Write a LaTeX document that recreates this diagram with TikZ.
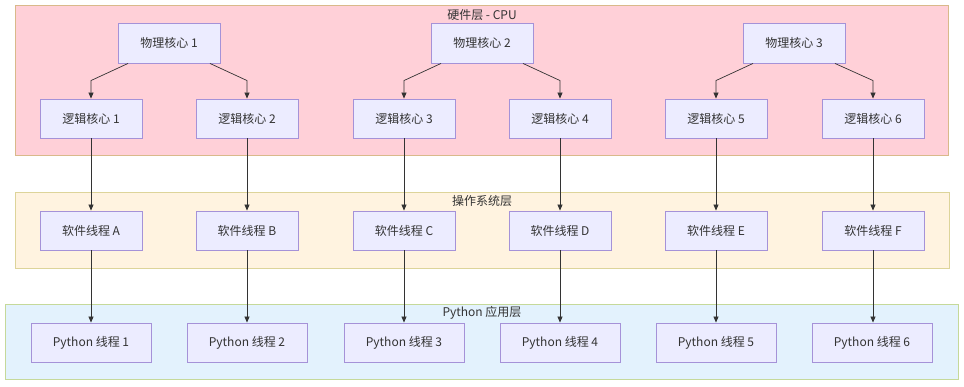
\documentclass[tikz,border=0pt]{standalone}
\usepackage{fontspec}
\setmainfont{Noto Sans CJK SC}
\usetikzlibrary{arrows.meta}
\definecolor{nodefill}{HTML}{ECECFF}
\definecolor{nodeline}{HTML}{A592D8}
\definecolor{txt}{HTML}{333333}
\definecolor{hwfill}{HTML}{FFD0D8}
\definecolor{hwline}{HTML}{D9B98A}
\definecolor{osfill}{HTML}{FFF3E0}
\definecolor{osline}{HTML}{DDD49A}
\definecolor{pyfill}{HTML}{E3F2FD}
\definecolor{pyline}{HTML}{C5D99A}
\tikzset{
  box/.style={draw=nodeline, fill=nodefill, line width=0.9pt, minimum width=102pt, minimum height=39pt, inner sep=0pt, text=txt, font=\fontsize{12}{14}\selectfont},
  pybox/.style={box, minimum width=120pt},
  cluster/.style={line width=0.8pt},
  ttl/.style={text=txt, font=\fontsize{12}{14}\selectfont, inner sep=0pt},
  arr/.style={draw=txt, line width=0.7pt, -{Triangle[length=6pt,width=5pt]}}
}
\begin{document}
\begin{tikzpicture}[x=1pt,y=-1pt]
\useasboundingbox (0,0) rectangle (964,386);
% clusters
\draw[cluster, draw=hwline, fill=hwfill] (15,5) rectangle (948,155);
\draw[cluster, draw=osline, fill=osfill] (15,192) rectangle (949,268);
\draw[cluster, draw=pyline, fill=pyfill] (5,304) rectangle (958,379);
\node[ttl] (t1) at (482,15) {硬件层 - CPU};
\node[ttl] (t2) at (482,201) {操作系统层};
\node[ttl] (t3) at (482,313) {Python 应用层};
% physical cores
\node[box, minimum height=40pt] (p1) at (169,43) {物理核心 1};
\node[box, minimum height=40pt] (p2) at (482,43) {物理核心 2};
\node[box, minimum height=40pt] (p3) at (794,43) {物理核心 3};
% logical cores
\node[box] (l1) at (91,118.5) {逻辑核心 1};
\node[box] (l2) at (247,118.5) {逻辑核心 2};
\node[box] (l3) at (404,118.5) {逻辑核心 3};
\node[box] (l4) at (560,118.5) {逻辑核心 4};
\node[box] (l5) at (716,118.5) {逻辑核心 5};
\node[box] (l6) at (873,118.5) {逻辑核心 6};
% software threads
\node[box] (s1) at (91,230.5) {软件线程 A};
\node[box] (s2) at (247,230.5) {软件线程 B};
\node[box] (s3) at (404,230.5) {软件线程 C};
\node[box] (s4) at (560,230.5) {软件线程 D};
\node[box] (s5) at (716,230.5) {软件线程 E};
\node[box] (s6) at (873,230.5) {软件线程 F};
% python threads
\node[pybox] (y1) at (91,342.5) {Python 线程 1};
\node[pybox] (y2) at (247,342.5) {Python 线程 2};
\node[pybox] (y3) at (404,342.5) {Python 线程 3};
\node[pybox] (y4) at (560,342.5) {Python 线程 4};
\node[pybox] (y5) at (716,342.5) {Python 线程 5};
\node[pybox] (y6) at (872,342.5) {Python 线程 6};
% physical -> logical
\foreach \p/\a/\b in {p1/l1/l2, p2/l3/l4, p3/l5/l6}{
  \draw[arr] ([xshift=-41pt]\p.south) -- ([yshift=18pt]\a.north) -- (\a.north);
  \draw[arr] ([xshift=41pt]\p.south) -- ([yshift=18pt]\b.north) -- (\b.north);
}
% logical -> software -> python
\foreach \i in {1,...,6}{
  \draw[arr] (l\i.south) -- (s\i.north);
  \draw[arr] (s\i.south) -- (s\i.south |- y\i.north);
}
\end{tikzpicture}
\end{document}
